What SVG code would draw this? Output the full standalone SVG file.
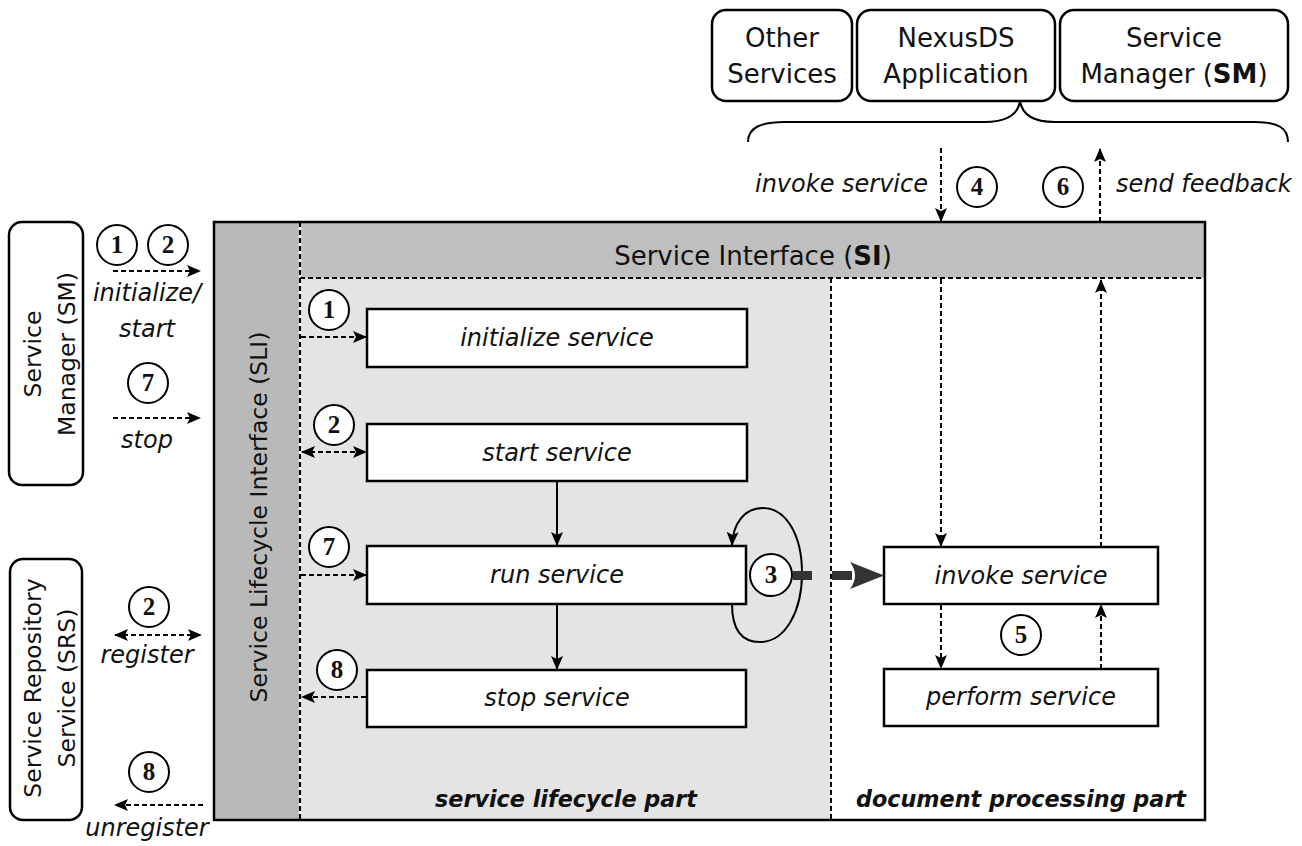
<svg xmlns="http://www.w3.org/2000/svg" width="1302" height="846" viewBox="0 0 1302 846">
  <style>
    text { font-family: "DejaVu Sans", "Liberation Sans", sans-serif; fill: #111; }
    .lbl { font-size: 26px; }
    .rot { font-size: 23.5px; }
    .it { font-size: 24px; font-style: italic; }
    .bi { font-size: 22.3px; font-style: italic; font-weight: bold; }
    .num { font-family: "Liberation Serif", "DejaVu Serif", serif; font-size: 25px; font-weight: bold; text-anchor: middle; }
    .c { text-anchor: middle; }
    .box { fill: #fff; stroke: #000; stroke-width: 2.5; }
    .rbox { fill: #fff; stroke: #000; stroke-width: 2.5; }
    .circ { fill: #fff; stroke: #000; stroke-width: 2; }
    .dash { fill: none; stroke: #000; stroke-width: 2; stroke-dasharray: 5 3; }
    .solid { fill: none; stroke: #000; stroke-width: 2; }
    .sep { fill: none; stroke: #000; stroke-width: 2; stroke-dasharray: 5 3; }
  </style>
  <defs>
    <marker id="ah" markerUnits="userSpaceOnUse" markerWidth="14" markerHeight="12" refX="13" refY="6" orient="auto-start-reverse">
      <path d="M0,0 L14,6 L0,12 L3,6 z" fill="#000"/>
    </marker>
  </defs>

  <rect width="1302" height="846" fill="#fff"/>

  <!-- service container with its two interfaces and two parts -->
  <g id="service">
    <rect x="214" y="222" width="991" height="598" fill="#fff"/>
    <rect x="214" y="222" width="86" height="598" fill="#b9b9b9"/>
    <rect x="300" y="222" width="905" height="56" fill="#bfbfbf"/>
    <rect x="300" y="278" width="531" height="542" fill="#e4e4e4"/>
    <line x1="300" y1="222" x2="300" y2="820" stroke="#fff" stroke-width="2"/>
    <path class="sep" d="M300,222 V820"/>
    <path class="sep" d="M300,278 H1205"/>
    <path class="sep" d="M831,278 V820"/>
    <rect x="214" y="222" width="991" height="598" fill="none" stroke="#000" stroke-width="2.5"/>
    <text class="lbl c" x="753" y="265">Service Interface (<tspan font-weight="bold">SI</tspan>)</text>
    <text class="rot c" transform="translate(258,517) rotate(-90)" y="9">Service Lifecycle Interface (SLI)</text>
    <text class="bi c" x="566" y="807">service lifecycle part</text>
    <text class="bi c" x="1021" y="807">document processing part</text>
  </g>

  <!-- external participants -->
  <g id="other-services">
    <rect class="rbox" x="712" y="10" width="140" height="91" rx="14"/>
    <text class="lbl c" x="782" y="47">Other</text>
    <text class="lbl c" x="782" y="83">Services</text>
  </g>
  <g id="nexusds-application">
    <rect class="rbox" x="857" y="10" width="198" height="91" rx="14"/>
    <text class="lbl c" x="956" y="47">NexusDS</text>
    <text class="lbl c" x="956" y="83">Application</text>
  </g>
  <g id="service-manager-top">
    <rect class="rbox" x="1060" y="10" width="228" height="91" rx="14"/>
    <text class="lbl c" x="1174" y="47">Service</text>
    <text class="lbl c" x="1174" y="83">Manager (<tspan font-weight="bold">SM</tspan>)</text>
  </g>
  <g id="brace">
    <path class="solid" d="M748,142 C748,128 760,122 785,122 L985,122 C1008,122 1018,114 1020,101 C1022,114 1032,122 1055,122 L1255,122 C1278,122 1288,128 1288,142"/>
  </g>
  <g id="service-manager-left">
    <rect class="rbox" x="9" y="222" width="74" height="263" rx="13"/>
    <g transform="translate(46,354) rotate(-90)">
      <text class="rot c" y="-5">Service</text>
      <text class="rot c" y="29">Manager (SM)</text>
    </g>
  </g>
  <g id="service-repository">
    <rect class="rbox" x="10" y="559" width="72" height="261" rx="13"/>
    <g transform="translate(46,688) rotate(-90)">
      <text class="rot c" y="-5">Service Repository</text>
      <text class="rot c" y="29">Service (SRS)</text>
    </g>
  </g>

  <!-- lifecycle steps -->
  <g id="initialize-service">
    <rect class="box" x="367" y="309" width="380" height="58"/>
    <text class="it c" x="557" y="346">initialize service</text>
  </g>
  <g id="start-service">
    <rect class="box" x="367" y="424" width="380" height="57"/>
    <text class="it c" x="557" y="461">start service</text>
  </g>
  <g id="run-service">
    <rect class="box" x="367" y="546" width="379" height="58"/>
    <text class="it c" x="557" y="583">run service</text>
  </g>
  <g id="stop-service">
    <rect class="box" x="367" y="670" width="379" height="57"/>
    <text class="it c" x="557" y="706">stop service</text>
  </g>

  <!-- document processing steps -->
  <g id="invoke-service">
    <rect class="box" x="884" y="547" width="274" height="57"/>
    <text class="it c" x="1021" y="584">invoke service</text>
  </g>
  <g id="perform-service">
    <rect class="box" x="884" y="669" width="274" height="57"/>
    <text class="it c" x="1021" y="705">perform service</text>
  </g>

  <!-- connectors -->
  <g id="connectors">
    <path class="dash" d="M113,271 H200" marker-end="url(#ah)"/>
    <path class="dash" d="M113,418 H200" marker-end="url(#ah)"/>
    <path class="dash" d="M115,635 H201" marker-start="url(#ah)" marker-end="url(#ah)"/>
    <path class="dash" d="M203,805 H115" marker-end="url(#ah)"/>

    <path class="dash" d="M301,337 H366" marker-end="url(#ah)"/>
    <path class="dash" d="M302,452 H366" marker-start="url(#ah)" marker-end="url(#ah)"/>
    <path class="dash" d="M301,575 H366" marker-end="url(#ah)"/>
    <path class="dash" d="M366,697 H302" marker-end="url(#ah)"/>

    <path class="solid" d="M557,481 V545" marker-end="url(#ah)"/>
    <path class="solid" d="M557,604 V669" marker-end="url(#ah)"/>
    <path class="solid" d="M732,604 C732,632 744,642 760,642 C786,642 802,610 802,573 C802,535 786,508 763,508 C744,508 733,524 732,545" marker-end="url(#ah)"/>

    <rect x="793" y="571" width="19" height="9" fill="#333"/>
    <rect x="832" y="571" width="20" height="9" fill="#333"/>
    <path d="M850,562 Q860,575.5 850,589 L884,575.5 z" fill="#333"/>

    <path class="dash" d="M941,148 V221" marker-end="url(#ah)"/>
    <path class="dash" d="M1100,222 V149" marker-end="url(#ah)"/>
    <path class="dash" d="M941,279 V546" marker-end="url(#ah)"/>
    <path class="dash" d="M1101,547 V280" marker-end="url(#ah)"/>
    <path class="dash" d="M941,605 V668" marker-end="url(#ah)"/>
    <path class="dash" d="M1101,669 V605" marker-end="url(#ah)"/>
  </g>

  <!-- step numbers -->
  <g id="step-markers">
    <circle class="circ" cx="117" cy="245" r="20"/><text class="num" x="117" y="253">1</text>
    <circle class="circ" cx="168" cy="245" r="20"/><text class="num" x="168" y="253">2</text>
    <circle class="circ" cx="148" cy="383" r="20"/><text class="num" x="148" y="391">7</text>
    <circle class="circ" cx="149" cy="607" r="20"/><text class="num" x="149" y="615">2</text>
    <circle class="circ" cx="149" cy="772" r="20"/><text class="num" x="149" y="780">8</text>

    <circle class="circ" cx="329" cy="310" r="20"/><text class="num" x="329" y="318">1</text>
    <circle class="circ" cx="334" cy="425" r="20"/><text class="num" x="334" y="433">2</text>
    <circle class="circ" cx="329" cy="547" r="20"/><text class="num" x="329" y="555">7</text>
    <circle class="circ" cx="337" cy="670" r="20"/><text class="num" x="337" y="678">8</text>

    <circle class="circ" cx="771" cy="575" r="21"/><text class="num" x="771" y="583">3</text>
    <circle class="circ" cx="977" cy="187" r="20"/><text class="num" x="977" y="195">4</text>
    <circle class="circ" cx="1021" cy="635" r="20"/><text class="num" x="1021" y="643">5</text>
    <circle class="circ" cx="1063" cy="187" r="20"/><text class="num" x="1063" y="195">6</text>
  </g>

  <!-- connector labels -->
  <g id="labels">
    <text class="it c" x="147" y="301">initialize/</text>
    <text class="it c" x="147" y="337">start</text>
    <text class="it c" x="147" y="448">stop</text>
    <text class="it c" x="147" y="663">register</text>
    <text class="it c" x="147" y="836">unregister</text>
    <text class="it" x="928" y="192" text-anchor="end">invoke service</text>
    <text class="it" x="1116" y="192">send feedback</text>
  </g>
</svg>
